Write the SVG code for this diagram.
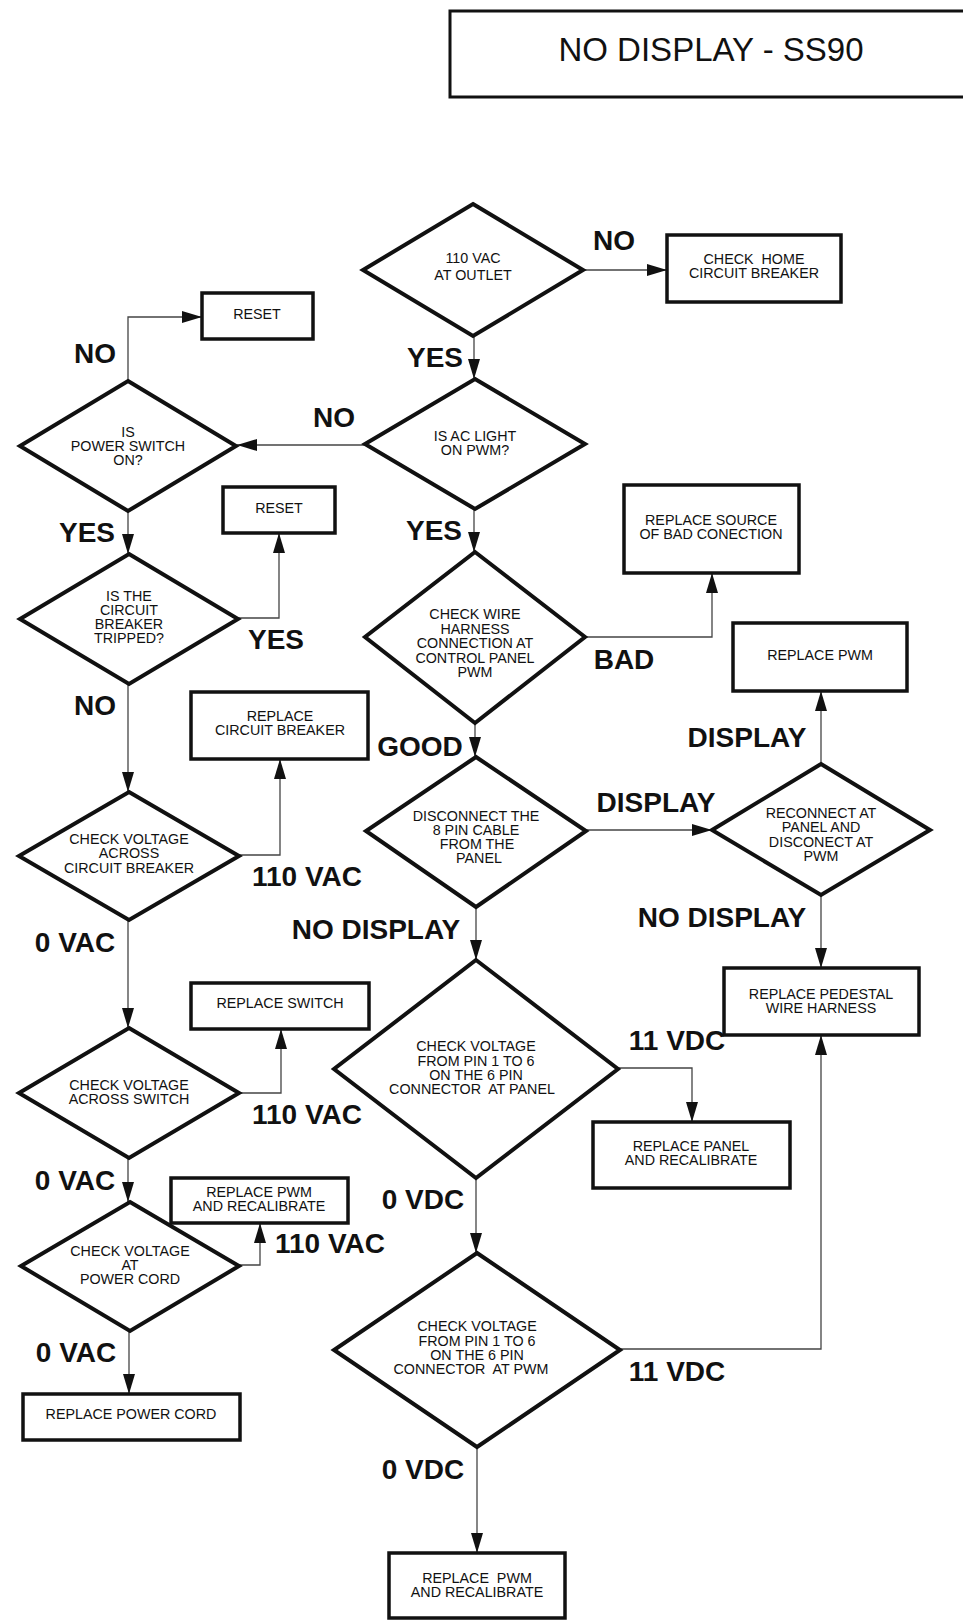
<svg xmlns="http://www.w3.org/2000/svg" width="963" height="1620" viewBox="0 0 963 1620">
<style>
.bg{fill:#fff}
.dia{fill:#fff;stroke:#111;stroke-width:4;stroke-linejoin:miter}
.box{fill:#fff;stroke:#111;stroke-width:3.5}
.title{fill:none;stroke:#111;stroke-width:3}
.t{font-family:"Liberation Sans",Arial,sans-serif;font-size:14.3px;fill:#111;text-anchor:middle}
.tt{font-family:"Liberation Sans",Arial,sans-serif;font-size:33px;fill:#111;text-anchor:middle}
.lb{font-family:"Liberation Sans",Arial,sans-serif;font-size:28px;font-weight:bold;fill:#111;text-anchor:middle}
.c{fill:none;stroke:#444;stroke-width:1.3;marker-end:url(#ah)}
</style>
<defs>
<marker id="ah" markerUnits="userSpaceOnUse" markerWidth="20" markerHeight="12" refX="20" refY="6" orient="auto">
<path d="M0,0 L20,6 L0,12 z" fill="#111"/>
</marker>
</defs>
<rect class="bg" x="0" y="0" width="963" height="1620"/>

<g id="title">
<rect class="title" x="450" y="11" width="530" height="86"/>
<text class="tt" x="711" y="61">NO DISPLAY - SS90</text>
</g>

<g id="connectors">
<path class="c" d="M583,270 L667,270"/>
<path class="c" d="M474,336 L474,379"/>
<path class="c" d="M365,445 L237,445"/>
<path class="c" d="M128,381 L128,317 L202,317"/>
<path class="c" d="M128,511 L128,554"/>
<path class="c" d="M238,618 L279,618 L279,533"/>
<path class="c" d="M128,684 L128,792"/>
<path class="c" d="M239,855 L280,855 L280,759"/>
<path class="c" d="M128,920 L128,1028"/>
<path class="c" d="M239,1093 L281,1093 L281,1029"/>
<path class="c" d="M128,1158 L128,1202"/>
<path class="c" d="M239,1265 L260,1265 L260,1223"/>
<path class="c" d="M129,1331 L129,1394"/>
<path class="c" d="M474,509 L474,552"/>
<path class="c" d="M585,637 L712,637 L712,573"/>
<path class="c" d="M475,723 L475,757"/>
<path class="c" d="M586,830 L712,830"/>
<path class="c" d="M821,764 L821,691"/>
<path class="c" d="M821,895 L821,968"/>
<path class="c" d="M476,907 L476,960"/>
<path class="c" d="M618,1068 L692,1068 L692,1122"/>
<path class="c" d="M476,1178 L476,1253"/>
<path class="c" d="M620,1349 L821,1349 L821,1035"/>
<path class="c" d="M477,1447 L477,1553"/>

<text class="lb" x="614" y="250">NO</text>
<text class="lb" x="435" y="367">YES</text>
<text class="lb" x="334" y="427">NO</text>
<text class="lb" x="95" y="363">NO</text>
<text class="lb" x="87" y="542">YES</text>
<text class="lb" x="276" y="649">YES</text>
<text class="lb" x="95" y="715">NO</text>
<text class="lb" x="307" y="886">110 VAC</text>
<text class="lb" x="75" y="952">0 VAC</text>
<text class="lb" x="307" y="1124">110 VAC</text>
<text class="lb" x="75" y="1190">0 VAC</text>
<text class="lb" x="330" y="1253">110 VAC</text>
<text class="lb" x="76" y="1362">0 VAC</text>
<text class="lb" x="434" y="540">YES</text>
<text class="lb" x="624" y="669">BAD</text>
<text class="lb" x="420" y="756">GOOD</text>
<text class="lb" x="656" y="812">DISPLAY</text>
<text class="lb" x="747" y="747">DISPLAY</text>
<text class="lb" x="722" y="927">NO DISPLAY</text>
<text class="lb" x="376" y="939">NO DISPLAY</text>
<text class="lb" x="677" y="1050">11 VDC</text>
<text class="lb" x="423" y="1209">0 VDC</text>
<text class="lb" x="677" y="1381">11 VDC</text>
<text class="lb" x="423" y="1479">0 VDC</text>
</g>

<g id="outlet">
<polygon class="dia" points="473,204 583,270 473,336 363,270"/>
<text class="t" x="473" y="263">110 VAC</text>
<text class="t" x="473" y="280">AT OUTLET</text>
</g>

<g id="home-breaker">
<rect class="box" x="667" y="235" width="174" height="67"/>
<text class="t" x="754" y="264" xml:space="preserve" style="white-space:pre">CHECK  HOME</text>
<text class="t" x="754" y="278">CIRCUIT BREAKER</text>
</g>

<g id="ac-light">
<polygon class="dia" points="475,379 585,444 475,509 365,444"/>
<text class="t" x="475" y="441">IS AC LIGHT</text>
<text class="t" x="475" y="455">ON PWM?</text>
</g>

<g id="power-switch">
<polygon class="dia" points="128,381 236,446 128,511 20,446"/>
<text class="t" x="128" y="437">IS</text>
<text class="t" x="128" y="451">POWER SWITCH</text>
<text class="t" x="128" y="465">ON?</text>
</g>

<g id="reset1">
<rect class="box" x="202" y="293" width="111" height="46"/>
<text class="t" x="257" y="319">RESET</text>
</g>

<g id="breaker-tripped">
<polygon class="dia" points="129,554 238,619 129,684 20,619"/>
<text class="t" x="129" y="601">IS THE</text>
<text class="t" x="129" y="615">CIRCUIT</text>
<text class="t" x="129" y="629">BREAKER</text>
<text class="t" x="129" y="643">TRIPPED?</text>
</g>

<g id="reset2">
<rect class="box" x="223" y="487" width="112" height="46"/>
<text class="t" x="279" y="513">RESET</text>
</g>

<g id="voltage-breaker">
<polygon class="dia" points="129,792 239,856 129,920 19,856"/>
<text class="t" x="129" y="844">CHECK VOLTAGE</text>
<text class="t" x="129" y="858">ACROSS</text>
<text class="t" x="129" y="873">CIRCUIT BREAKER</text>
</g>

<g id="replace-breaker">
<rect class="box" x="191" y="692" width="177" height="67"/>
<text class="t" x="280" y="721">REPLACE</text>
<text class="t" x="280" y="735">CIRCUIT BREAKER</text>
</g>

<g id="voltage-switch">
<polygon class="dia" points="129,1028 239,1093 129,1158 19,1093"/>
<text class="t" x="129" y="1090">CHECK VOLTAGE</text>
<text class="t" x="129" y="1104">ACROSS SWITCH</text>
</g>

<g id="replace-switch">
<rect class="box" x="191" y="983" width="178" height="46"/>
<text class="t" x="280" y="1008">REPLACE SWITCH</text>
</g>

<g id="voltage-cord">
<polygon class="dia" points="130,1202 239,1266 130,1331 21,1266"/>
<text class="t" x="130" y="1256">CHECK VOLTAGE</text>
<text class="t" x="130" y="1270">AT</text>
<text class="t" x="130" y="1284">POWER CORD</text>
</g>

<g id="replace-pwm-left">
<rect class="box" x="171" y="1178" width="177" height="45"/>
<text class="t" x="259" y="1197">REPLACE PWM</text>
<text class="t" x="259" y="1211">AND RECALIBRATE</text>
</g>

<g id="replace-cord">
<rect class="box" x="23" y="1394" width="217" height="46"/>
<text class="t" x="131" y="1419">REPLACE POWER CORD</text>
</g>

<g id="wire-harness">
<polygon class="dia" points="475,552 585,637 475,723 365,637"/>
<text class="t" x="475" y="619">CHECK WIRE</text>
<text class="t" x="475" y="634">HARNESS</text>
<text class="t" x="475" y="648">CONNECTION AT</text>
<text class="t" x="475" y="663">CONTROL PANEL</text>
<text class="t" x="475" y="677">PWM</text>
</g>

<g id="replace-source">
<rect class="box" x="624" y="485" width="175" height="88"/>
<text class="t" x="711" y="525">REPLACE SOURCE</text>
<text class="t" x="711" y="539">OF BAD CONECTION</text>
</g>

<g id="disconnect">
<polygon class="dia" points="476,757 586,831 476,907 366,831"/>
<text class="t" x="476" y="821">DISCONNECT THE</text>
<text class="t" x="476" y="835">8 PIN CABLE</text>
<text class="t" x="477" y="849">FROM THE</text>
<text class="t" x="479" y="863">PANEL</text>
</g>

<g id="reconnect">
<polygon class="dia" points="821,764 930,830 821,895 712,830"/>
<text class="t" x="821" y="818">RECONNECT AT</text>
<text class="t" x="821" y="832">PANEL AND</text>
<text class="t" x="821" y="847">DISCONECT AT</text>
<text class="t" x="821" y="861">PWM</text>
</g>

<g id="replace-pwm-right">
<rect class="box" x="733" y="623" width="174" height="68"/>
<text class="t" x="820" y="660">REPLACE PWM</text>
</g>

<g id="replace-pedestal">
<rect class="box" x="724" y="968" width="195" height="67"/>
<text class="t" x="821" y="999">REPLACE PEDESTAL</text>
<text class="t" x="821" y="1013">WIRE HARNESS</text>
</g>

<g id="voltage-panel">
<polygon class="dia" points="476,960 618,1069 476,1178 334,1069"/>
<text class="t" x="476" y="1051">CHECK VOLTAGE</text>
<text class="t" x="476" y="1066">FROM PIN 1 TO 6</text>
<text class="t" x="476" y="1080">ON THE 6 PIN</text>
<text class="t" x="472" y="1094" xml:space="preserve" style="white-space:pre">CONNECTOR  AT PANEL</text>
</g>

<g id="replace-panel">
<rect class="box" x="593" y="1122" width="197" height="66"/>
<text class="t" x="691" y="1151">REPLACE PANEL</text>
<text class="t" x="691" y="1165">AND RECALIBRATE</text>
</g>

<g id="voltage-pwm">
<polygon class="dia" points="477,1253 620,1350 477,1447 334,1350"/>
<text class="t" x="477" y="1331">CHECK VOLTAGE</text>
<text class="t" x="477" y="1346">FROM PIN 1 TO 6</text>
<text class="t" x="477" y="1360">ON THE 6 PIN</text>
<text class="t" x="471" y="1374" xml:space="preserve" style="white-space:pre">CONNECTOR  AT PWM</text>
</g>

<g id="replace-pwm-bottom">
<rect class="box" x="389" y="1553" width="176" height="65"/>
<text class="t" x="477" y="1583" xml:space="preserve" style="white-space:pre">REPLACE  PWM</text>
<text class="t" x="477" y="1597">AND RECALIBRATE</text>
</g>
</svg>
